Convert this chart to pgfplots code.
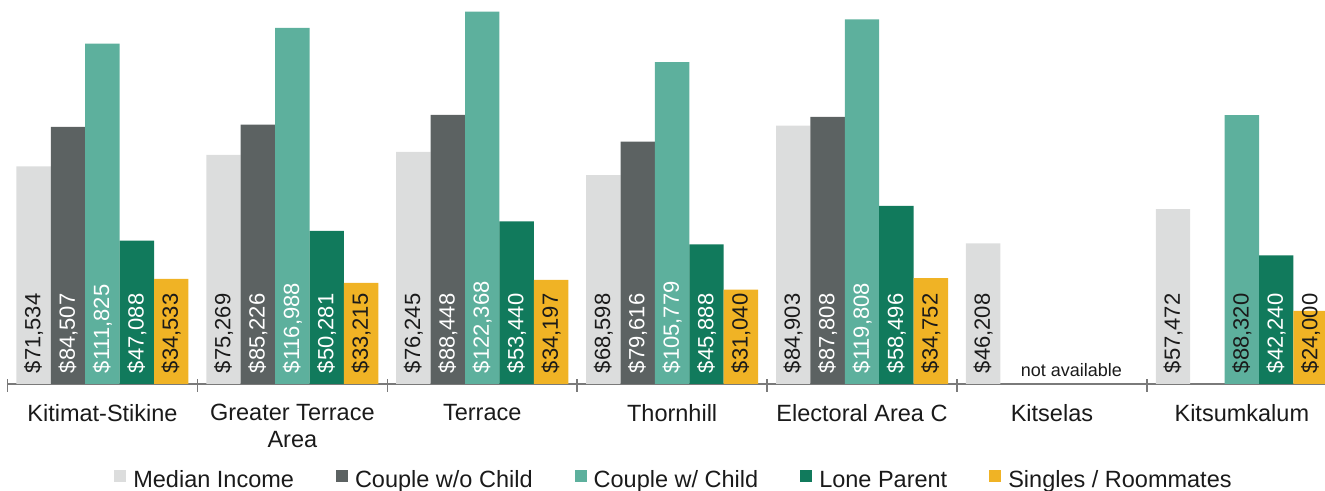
\documentclass[border=0pt]{standalone}
\usepackage{fontspec}
\setmainfont{Liberation Sans}
\usepackage{pgfplots}
\pgfplotsset{compat=1.18}

\definecolor{cMed}{HTML}{DCDDDD}
\definecolor{cCwo}{HTML}{5C6262}
\definecolor{cCw}{HTML}{5DB09D}
\definecolor{cLone}{HTML}{117A5C}
\definecolor{cSing}{HTML}{F0B325}
\definecolor{axisgray}{HTML}{7A7A7A}
\definecolor{txt}{HTML}{1A1A1A}

\begin{document}
\begin{tikzpicture}
\path[use as bounding box, clip] (0,0) rectangle (662.5pt,245.5pt);
\begin{axis}[
  at={(3.75pt,53.5pt)}, anchor=south west,
  scale only axis, width=658.75pt, height=192pt,
  xmin=-0.5, xmax=6.438, ymin=0, ymax=126190,
  ybar=0pt, bar width=17.2pt,
  axis x line*=bottom, axis y line=none,
  x axis line style={draw=axisgray, line width=0.7pt},
  xtick={0,...,6},
  xticklabels={Kitimat-Stikine,{Greater Terrace\\Area},Terrace,Thornhill,Electoral Area C,Kitselas,Kitsumkalum},
  xticklabel style={align=center, text=txt, font=\fontsize{11.75}{13.5}\selectfont, yshift=-6.5pt},
  major tick length=0pt,
  minor xtick={-0.5,0.5,...,5.5},
  minor tick length=6.5pt,
  tick align=center,
  minor tick style={draw=axisgray, line width=0.7pt, yshift=-0.75pt},
  /pgf/number format/.cd, fixed, precision=0, 1000 sep={,}, assume math mode=true,
  /pgfplots/.cd,
  visualization depends on={rawy \as \rawy},
  visualization depends on={value \thisrow{lc} \as \labcol},
  nodes near coords={\$\pgfmathprintnumber{\pgfplotspointmeta}},
  nodes near coords style={shift={(axis direction cs:0,-\rawy)}, rotate=90, anchor=west,
    font=\fontsize{11}{12}\selectfont, inner xsep=5.2pt, inner ysep=0pt, text=\labcol},
  legend columns=5,
  legend style={at={(0.0808,-0.2526)}, anchor=west, draw=none, fill=none,
    inner sep=0pt, column sep=0pt, font=\fontsize{11.75}{14}\selectfont, text=txt,
    nodes={inner sep=0pt, text height=8.4pt, text depth=2.5pt},
    /tikz/every odd column/.append style={column sep=3.5pt},
    /tikz/every even column/.append style={column sep=21pt}},
  legend image code/.code={\fill[#1] (0pt,0pt) rectangle (6pt,6pt);},
]
% Median income
\addplot[fill=cMed, draw=none] table {
x y lc
0 71534 txt
1 75269 txt
2 76245 txt
3 68598 txt
4 84903 txt
5 46208 txt
6 57472 txt
};
% Couple without child
\addplot[fill=cCwo, draw=none] table {
x y lc
0 84507 white
1 85226 white
2 88448 white
3 79616 white
4 87808 white
};
% Couple with child
\addplot[fill=cCw, draw=none] table {
x y lc
0 111825 white
1 116988 white
2 122368 white
3 105779 white
4 119808 white
6 88320 txt
};
% Lone parent
\addplot[fill=cLone, draw=none] table {
x y lc
0 47088 white
1 50281 white
2 53440 white
3 45888 white
4 58496 white
6 42240 white
};
% Singles / roommates
\addplot[fill=cSing, draw=none] table {
x y lc
0 34533 txt
1 33215 txt
2 34197 txt
3 31040 txt
4 34752 txt
6 24000 txt
};
\legend{Median Income, Couple w/o Child, Couple w/ Child, Lone Parent, Singles / Roommates}
\node[anchor=base, text=txt, font=\fontsize{9}{10}\selectfont] at (axis cs:5.103,2600) {not available};
\end{axis}
\end{tikzpicture}
\end{document}
